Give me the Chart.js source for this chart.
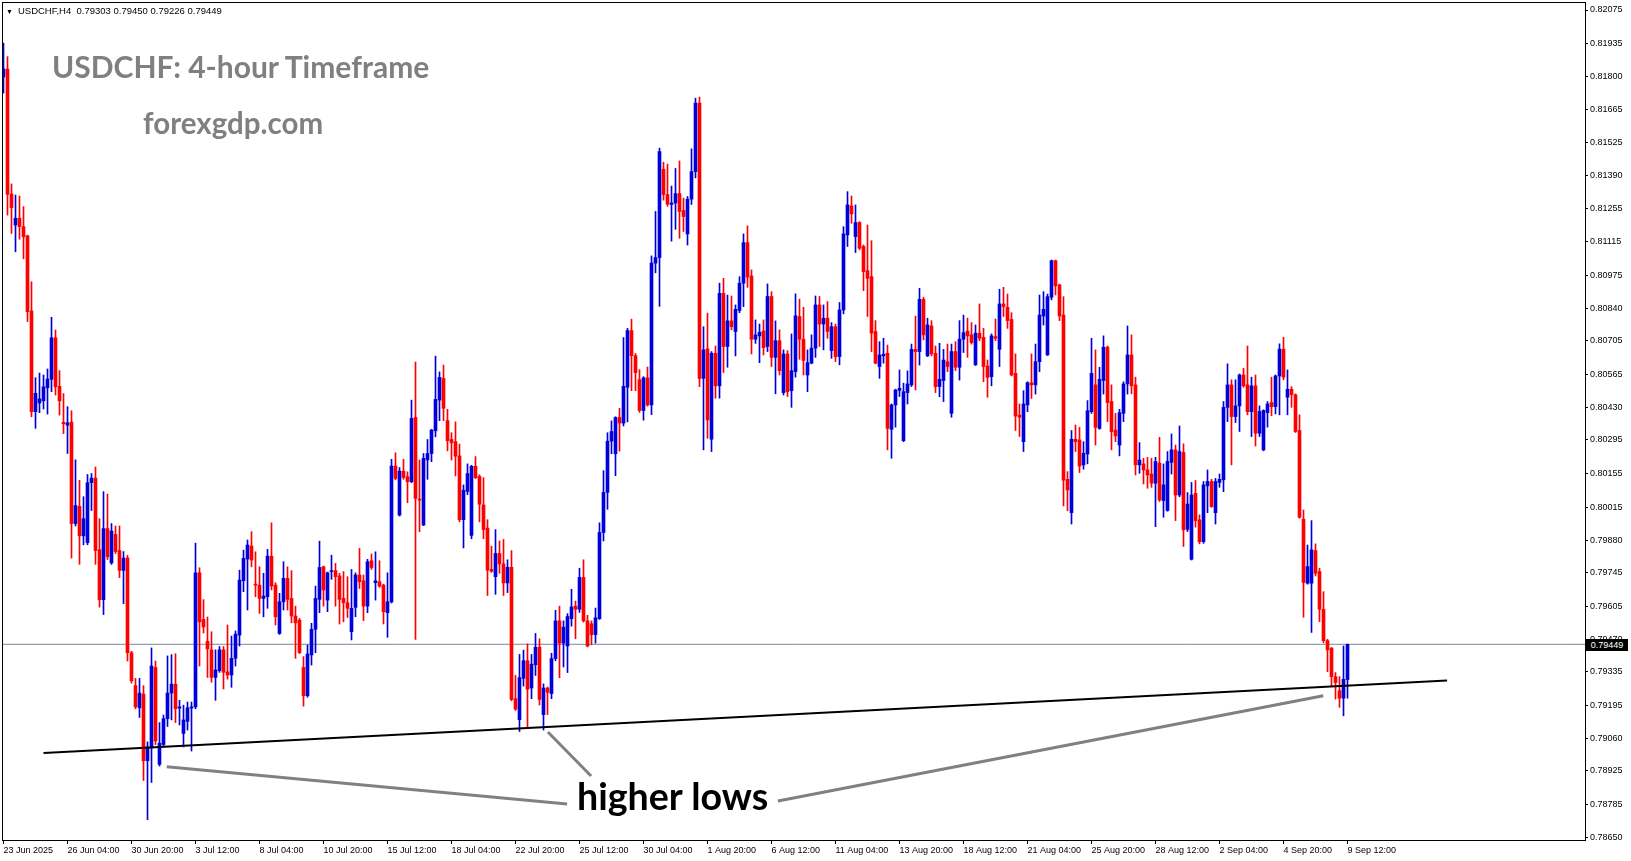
<!DOCTYPE html>
<html>
<head>
<meta charset="utf-8">
<script src="https://cdn.jsdelivr.net/npm/chart.js@4.4.1/dist/chart.umd.min.js"></script>
<style>
  body { margin: 0; background: #fff; }
  #wrap { position: relative; width: 1631px; height: 861px; overflow: hidden; }
  #chart { position: absolute; left: 0; top: 0; }
  .lbl { position: absolute; white-space: nowrap; line-height: 1; }
  #hdr { left: 6px; top: 5px; font: 9.5px "Liberation Sans", Arial, sans-serif; color: #000; }
  #hdr .tri { font-size: 7px; margin-right: 5px; }
  #title { left: 52px; top: 48px; font: bold 30px Lato, sans-serif; color: #808080; }
  #site { left: 143px; top: 105px; font: bold 29.5px Lato, sans-serif; color: #808080; }
  #note { left: 577px; top: 773px; font: bold 37.6px Lato, sans-serif; color: #000; }
  #bid { left: 1586px; top: 639px; width: 42px; height: 12px; background: #000; color: #fff;
         font: 9px "Liberation Sans", Arial, sans-serif; line-height: 12px; text-align: center; }
</style>
</head>
<body>
<div id="wrap">
  <canvas id="chart" width="1631" height="861"></canvas>
  <div class="lbl" id="hdr"><span class="tri">▼</span>USDCHF,H4&nbsp; 0.79303 0.79450 0.79226 0.79449</div>
  <div class="lbl" id="title">USDCHF: 4-hour Timeframe</div>
  <div class="lbl" id="site">forexgdp.com</div>
  <div class="lbl" id="note">higher lows</div>
  <div class="lbl" id="bid">0.79449</div>
</div>
<script>
// USDCHF H4 candles, prices in points (1e-5)
const opens = [
  81798, 81830, 81313, 81185, 81213, 81178, 81140, 80829, 80412, 80448,
  80457, 80511, 80546, 80718, 80517, 80368, 80356, 80369, 79949, 80020,
  79898, 79870, 80118, 80137, 79841, 79634, 79928, 79786, 79904, 79837,
  79755, 79806, 79414, 79278, 79186, 79243, 78967, 79020, 79353, 78952,
  79034, 79141, 79247, 79284, 79185, 79080, 79130, 79185, 79190, 79745,
  79552, 79461, 79426, 79312, 79340, 79426, 79335, 79322, 79391, 79487,
  79712, 79802, 79856, 79698, 79694, 79639, 79646, 79814, 79694, 79494,
  79625, 79722, 79639, 79566, 79549, 79353, 79236, 79405, 79511, 79635,
  79770, 79632, 79750, 79754, 79732, 79639, 79621, 79501, 79602, 79736,
  79712, 79607, 79795, 79704, 79708, 79694, 79580, 79625, 80187, 79984,
  80166, 80143, 80122, 80388, 80050, 79943, 80212, 80239, 80333, 80460,
  80550, 80375, 80297, 80288, 80229, 79965, 80082, 79900, 80186, 80144,
  80026, 79930, 79759, 79729, 79825, 79782, 79703, 79768, 79224, 79137,
  79308, 79381, 79268, 79364, 79437, 79158, 79268, 79245, 79390, 79546,
  79454, 79442, 79555, 79607, 79594, 79726, 79546, 79534, 79489, 79555,
  79912, 80078, 80290, 80238, 80388, 80365, 80513, 80748, 80644, 80545,
  80417, 80552, 80440, 81027, 81050, 81416, 81311, 81270, 81276, 81315,
  81245, 81148, 81292, 81406, 81690, 80550, 80672, 80298, 80654, 80519,
  80902, 80682, 80788, 80744, 80831, 80944, 81112, 80974, 80712, 80726,
  80746, 80682, 80889, 80637, 80706, 80491, 80651, 80499, 80578, 80806,
  80712, 80564, 80613, 80675, 80854, 80775, 80799, 80665, 80764, 80640,
  80833, 81144, 81264, 81137, 81195, 81096, 80996, 80971, 80744, 80599,
  80643, 80654, 80339, 80440, 80500, 80292, 80491, 80523, 80670, 80661,
  80877, 80643, 80767, 80654, 80516, 80541, 80619, 80405, 80661, 80596,
  80712, 80746, 80730, 80606, 80737, 80720, 80601, 80557, 80723, 80670,
  80858, 80844, 80794, 80571, 80398, 80288, 80440, 80532, 80523, 80619,
  80808, 80647, 80886, 81037, 80937, 80812, 80132, 79994, 80298, 80295,
  80192, 80237, 80412, 80523, 80343, 80541, 80679, 80454, 80336, 80274,
  80405, 80527, 80647, 80523, 80192, 80196, 80171, 80154, 80116, 80199,
  80044, 80003, 80202, 80254, 80067, 80243, 79925, 79801, 80074, 79964,
  79874, 80105, 80123, 79994, 80119, 80130, 80430, 80523, 80392, 80436,
  80564, 80523, 80412, 80519, 80323, 80254, 80408, 80450, 80433, 80560,
  80671, 80472, 80505, 80482, 80334, 79967, 79702, 79702, 79837, 79750,
  79594, 79464, 79433, 79315, 79257, 79226, 79303
];
const highs = [
  81938, 81882, 81355, 81309, 81305, 81261, 81143, 80950, 80553, 80572,
  80564, 80589, 80803, 80750, 80582, 80487, 80433, 80416, 80213, 80128,
  80060, 80152, 80156, 80183, 79969, 80081, 80071, 79949, 79939, 79939,
  79833, 79817, 79420, 79308, 79308, 79278, 79045, 79434, 79380, 79125,
  79156, 79401, 79406, 79410, 79217, 79197, 79210, 79210, 79868, 79766,
  79634, 79562, 79501, 79426, 79440, 79440, 79529, 79483, 79504, 79756,
  79839, 79881, 79915, 79832, 79770, 79743, 79842, 79952, 79704, 79660,
  79791, 79770, 79754, 79607, 79556, 79398, 79446, 79536, 79690, 79876,
  79773, 79748, 79818, 79784, 79743, 79750, 79729, 79759, 79745, 79846,
  79736, 79801, 79823, 79832, 79795, 79698, 79745, 80215, 80242, 80181,
  80215, 80163, 80460, 80617, 80212, 80239, 80297, 80339, 80642, 80577,
  80605, 80422, 80325, 80370, 80278, 80109, 80196, 80190, 80226, 80151,
  80139, 79965, 79855, 79924, 79877, 79883, 79799, 79837, 79320, 79407,
  79425, 79451, 79407, 79494, 79472, 79285, 79272, 79412, 79590, 79607,
  79546, 79576, 79677, 79628, 79764, 79799, 79569, 79546, 79599, 79952,
  80168, 80325, 80374, 80391, 80426, 80719, 80757, 80795, 80653, 80586,
  80557, 80597, 81057, 81241, 81503, 81445, 81437, 81346, 81419, 81450,
  81296, 81303, 81500, 81710, 81715, 80764, 80820, 80661, 80684, 80944,
  80964, 80895, 80891, 80854, 80971, 81148, 81181, 80999, 80792, 80775,
  80792, 80941, 80909, 80788, 80751, 80668, 80665, 80734, 80900, 80878,
  80844, 80668, 80730, 80891, 80889, 80854, 80868, 80781, 80775, 80864,
  81178, 81323, 81305, 81268, 81199, 81102, 81185, 81120, 80789, 80702,
  80716, 80688, 80444, 80505, 80585, 80530, 80581, 80692, 80808, 80923,
  80886, 80799, 80789, 80684, 80695, 80670, 80692, 80692, 80702, 80789,
  80812, 80799, 80781, 80771, 80858, 80757, 80626, 80734, 80796, 80919,
  80927, 80899, 80822, 80651, 80444, 80499, 80536, 80651, 80692, 80895,
  80909, 80899, 81040, 81040, 80940, 80888, 80164, 80334, 80357, 80347,
  80288, 80458, 80716, 80668, 80596, 80726, 80684, 80523, 80405, 80422,
  80536, 80767, 80730, 80555, 80284, 80219, 80223, 80219, 80223, 80306,
  80196, 80247, 80320, 80274, 80353, 80279, 80077, 80119, 80127, 79985,
  80123, 80171, 80132, 80136, 80154, 80454, 80610, 80544, 80544, 80568,
  80592, 80684, 80555, 80564, 80436, 80420, 80454, 80555, 80564, 80693,
  80720, 80585, 80516, 80486, 80399, 80005, 79860, 79961, 79865, 79764,
  79667, 79470, 79436, 79332, 79315, 79442, 79450
];
const lows = [
  81731, 81226, 81150, 81074, 81126, 81045, 80785, 80391, 80343, 80408,
  80423, 80402, 80495, 80481, 80398, 80321, 80239, 79806, 79939, 79780,
  79861, 79861, 80003, 79780, 79603, 79572, 79800, 79780, 79825, 79725,
  79617, 79380, 79288, 79182, 79146, 78885, 78723, 78877, 79034, 78945,
  79024, 79109, 79136, 79125, 79115, 79024, 79094, 79007, 79182, 79359,
  79496, 79312, 79292, 79217, 79333, 79264, 79305, 79271, 79359, 79442,
  79667, 79591, 79770, 79646, 79577, 79563, 79598, 79674, 79529, 79490,
  79591, 79591, 79538, 79391, 79411, 79193, 79230, 79363, 79414, 79580,
  79607, 79584, 79718, 79607, 79533, 79542, 79560, 79467, 79563, 79680,
  79547, 79580, 79759, 79632, 79685, 79533, 79478, 79620, 80130, 79980,
  80132, 80035, 80118, 79469, 79915, 79940, 80132, 80205, 80308, 80375,
  80375, 80250, 80212, 80146, 79956, 79848, 80069, 79886, 80135, 79956,
  79886, 79651, 79747, 79656, 79743, 79651, 79663, 79215, 79175, 79088,
  79276, 79102, 79224, 79320, 79198, 79094, 79158, 79224, 79381, 79311,
  79355, 79332, 79524, 79472, 79581, 79541, 79438, 79447, 79454, 79552,
  79877, 80008, 80238, 80147, 80249, 80353, 80370, 80499, 80499, 80409,
  80377, 80435, 80400, 80987, 80848, 81288, 81262, 81118, 81167, 81130,
  81158, 81102, 81270, 81380, 80516, 80254, 80302, 80247, 80468, 80468,
  80574, 80596, 80751, 80643, 80822, 80847, 80927, 80651, 80695, 80615,
  80647, 80661, 80599, 80486, 80564, 80481, 80475, 80430, 80555, 80629,
  80564, 80495, 80610, 80637, 80682, 80668, 80716, 80633, 80619, 80606,
  80817, 81096, 81192, 81071, 81082, 80913, 80806, 80661, 80610, 80550,
  80613, 80254, 80219, 80348, 80475, 80288, 80444, 80516, 80502, 80605,
  80709, 80640, 80643, 80491, 80474, 80454, 80578, 80389, 80582, 80543,
  80657, 80637, 80692, 80603, 80706, 80536, 80472, 80519, 80706, 80599,
  80806, 80757, 80560, 80334, 80309, 80247, 80412, 80467, 80485, 80578,
  80771, 80645, 80875, 80895, 80789, 80022, 80002, 79947, 80247, 80160,
  80174, 80196, 80405, 80274, 80339, 80485, 80371, 80254, 80288, 80229,
  80371, 80485, 80486, 80150, 80157, 80113, 80095, 80099, 79936, 80040,
  79975, 80000, 80154, 79961, 80060, 79854, 79916, 79798, 79934, 79865,
  79867, 79994, 80016, 79947, 80099, 80081, 80371, 80192, 80367, 80330,
  80513, 80399, 80309, 80270, 80309, 80250, 80348, 80395, 80403, 80399,
  80544, 80399, 80430, 80326, 79971, 79561, 79698, 79498, 79732, 79543,
  79455, 79336, 79274, 79222, 79188, 79153, 79226
];
const closes = [
  81831, 81312, 81257, 81213, 81178, 81136, 80826, 80412, 80488, 80465,
  80515, 80547, 80718, 80515, 80457, 80362, 80366, 79949, 80024, 79898,
  79969, 80118, 80137, 79837, 79634, 79928, 79812, 79918, 79833, 79755,
  79806, 79414, 79298, 79190, 79247, 78967, 79024, 79359, 79049, 79040,
  79141, 79247, 79284, 79182, 79190, 79136, 79186, 79190, 79745, 79542,
  79521, 79430, 79312, 79343, 79426, 79333, 79322, 79391, 79491, 79715,
  79805, 79860, 79798, 79694, 79639, 79649, 79814, 79690, 79563, 79625,
  79722, 79635, 79566, 79538, 79414, 79236, 79409, 79511, 79639, 79767,
  79674, 79745, 79754, 79729, 79635, 79621, 79598, 79598, 79736, 79708,
  79607, 79791, 79767, 79712, 79690, 79584, 79625, 80187, 80136, 80166,
  80140, 80122, 80384, 80053, 80046, 80219, 80239, 80336, 80463, 80554,
  80426, 80292, 80283, 80228, 79965, 80087, 80156, 80186, 80139, 80029,
  79924, 79756, 79751, 79825, 79782, 79703, 79768, 79221, 79181, 79311,
  79381, 79263, 79367, 79437, 79221, 79268, 79250, 79390, 79546, 79454,
  79520, 79564, 79604, 79594, 79726, 79546, 79442, 79489, 79559, 79912,
  80078, 80290, 80330, 80388, 80365, 80517, 80748, 80644, 80574, 80417,
  80552, 80440, 81027, 81050, 81489, 81311, 81271, 81276, 81315, 81241,
  81220, 81292, 81406, 81690, 80550, 80668, 80378, 80654, 80519, 80902,
  80682, 80788, 80764, 80836, 80944, 81112, 80969, 80712, 80730, 80741,
  80677, 80889, 80637, 80706, 80582, 80651, 80495, 80582, 80809, 80712,
  80624, 80615, 80675, 80854, 80775, 80799, 80744, 80764, 80640, 80833,
  81148, 81268, 81231, 81195, 81089, 80992, 80964, 80737, 80613, 80647,
  80650, 80343, 80440, 80502, 80509, 80495, 80527, 80670, 80661, 80877,
  80730, 80771, 80651, 80516, 80546, 80626, 80599, 80661, 80596, 80712,
  80739, 80726, 80698, 80737, 80716, 80599, 80554, 80726, 80716, 80858,
  80847, 80789, 80564, 80394, 80389, 80444, 80532, 80523, 80619, 80812,
  80836, 80888, 81037, 80933, 80808, 80129, 80088, 80298, 80288, 80187,
  80240, 80416, 80571, 80347, 80546, 80679, 80450, 80329, 80312, 80408,
  80527, 80647, 80519, 80192, 80212, 80171, 80150, 80116, 80206, 80047,
  80109, 80206, 80254, 80067, 80247, 79923, 80030, 80067, 79961, 79874,
  80109, 80123, 80019, 80123, 80132, 80430, 80523, 80392, 80436, 80564,
  80519, 80412, 80519, 80323, 80413, 80417, 80444, 80433, 80560, 80671,
  80555, 80505, 80482, 80330, 79975, 79705, 79771, 79840, 79743, 79594,
  79464, 79426, 79315, 79291, 79226, 79304, 79449
];

// time axis: bar index of each date label
const xTickIdx = [0, 16, 32, 48, 64, 80, 96, 112, 128, 144, 160, 176, 192, 208, 224, 240, 256, 272, 288, 304, 320, 336];
const xTickLabels = ['23 Jun 2025', '26 Jun 04:00', '30 Jun 20:00', '3 Jul 12:00', '8 Jul 04:00', '10 Jul 20:00',
  '15 Jul 12:00', '18 Jul 04:00', '22 Jul 20:00', '25 Jul 12:00', '30 Jul 04:00', '1 Aug 20:00', '6 Aug 12:00',
  '11 Aug 04:00', '13 Aug 20:00', '18 Aug 12:00', '21 Aug 04:00', '25 Aug 20:00', '28 Aug 12:00', '2 Sep 04:00',
  '4 Sep 20:00', '9 Sep 12:00'];
const yTickValues = [0.82075, 0.81935, 0.81800, 0.81665, 0.81525, 0.81390, 0.81255, 0.81115, 0.80975, 0.80840,
  0.80705, 0.80565, 0.80430, 0.80295, 0.80155, 0.80015, 0.79880, 0.79745, 0.79605, 0.79470, 0.79335, 0.79195,
  0.79060, 0.78925, 0.78785, 0.78650];

const lastPrice = 0.79449;
// drawn lines: [barIndex, price] end points
const supportLine = [[10, 0.78999], [360.9, 0.79299]];
const arrowLeft = [[40.8, 0.78942], [140.9, 0.78788]];
const arrowMid = [[136.1, 0.79086], [146.9, 0.78904]];
const arrowRight = [[193.6, 0.78800], [329.95, 0.79236]];

const idx = opens.map((_, i) => i);
const colors = idx.map(i => closes[i] >= opens[i] ? '#0000dd' : '#ff0000');
const toPts = arr => arr.map(p => ({ x: p[0], y: p[1] }));

const lineDs = (pts, color, width) => ({
  type: 'line', data: toPts(pts), borderColor: color, borderWidth: width,
  pointRadius: 0, fill: false, order: 0
});

const framePlugin = {
  id: 'frame',
  afterDraw(chart) {
    const { ctx, chartArea: a } = chart;
    ctx.save();
    ctx.strokeStyle = '#000';
    ctx.lineWidth = 1;
    ctx.strokeRect(a.left + 0.5, a.top - 0.5, a.right - a.left, a.bottom - a.top);
    ctx.restore();
  }
};

const tickFont = { family: '"Liberation Sans", Arial, sans-serif', size: 9 };

new Chart(document.getElementById('chart'), {
  type: 'bar',
  data: {
    datasets: [
      lineDs(supportLine, '#000', 2),
      lineDs(arrowLeft, '#808080', 3),
      lineDs(arrowMid, '#808080', 3),
      lineDs(arrowRight, '#808080', 3),
      {
        label: 'body',
        data: idx.map(i => ({ x: i, y: [opens[i] / 1e5, closes[i] / 1e5] })),
        backgroundColor: colors, barThickness: 3, minBarLength: 1, grouped: false, order: 1
      },
      {
        label: 'wick',
        data: idx.map(i => ({ x: i, y: [lows[i] / 1e5, highs[i] / 1e5] })),
        backgroundColor: colors, barThickness: 1, grouped: false, order: 2
      },
      {
        type: 'line', data: [{ x: -0.375, y: lastPrice }, { x: 395.375, y: lastPrice }],
        borderColor: '#778899', borderWidth: 1, pointRadius: 0, order: 3
      }
    ]
  },
  options: {
    responsive: false,
    animation: false,
    layout: { padding: { left: 2, top: 3, right: 0, bottom: 0 } },
    plugins: { legend: { display: false }, tooltip: { enabled: false } },
    scales: {
      x: {
        type: 'linear', min: -0.375, max: 395.375, offset: false,
        afterFit: s => { s.height = 20; s.paddingLeft = 0; s.paddingRight = 0; },
        afterBuildTicks: s => { s.ticks = xTickIdx.map(v => ({ value: v })); },
        grid: { display: true, offset: false, drawOnChartArea: false, drawTicks: true, tickLength: 3, color: '#000' },
        border: { display: false },
        ticks: {
          autoSkip: false, maxRotation: 0, minRotation: 0, align: 'start', padding: 1,
          color: '#000', font: tickFont,
          callback: v => xTickLabels[xTickIdx.indexOf(v)]
        }
      },
      y: {
        type: 'linear', position: 'right', min: 0.786347, max: 0.82104,
        afterFit: s => { s.width = 46; s.paddingTop = 0; s.paddingBottom = 0; },
        afterBuildTicks: s => { s.ticks = yTickValues.map(v => ({ value: v })); },
        grid: { display: true, drawOnChartArea: false, drawTicks: true, tickLength: 3, color: '#000' },
        border: { display: false },
        ticks: { padding: 2, color: '#000', font: tickFont, callback: v => v.toFixed(5) }
      }
    }
  },
  plugins: [framePlugin]
});
</script>
</body>
</html>
